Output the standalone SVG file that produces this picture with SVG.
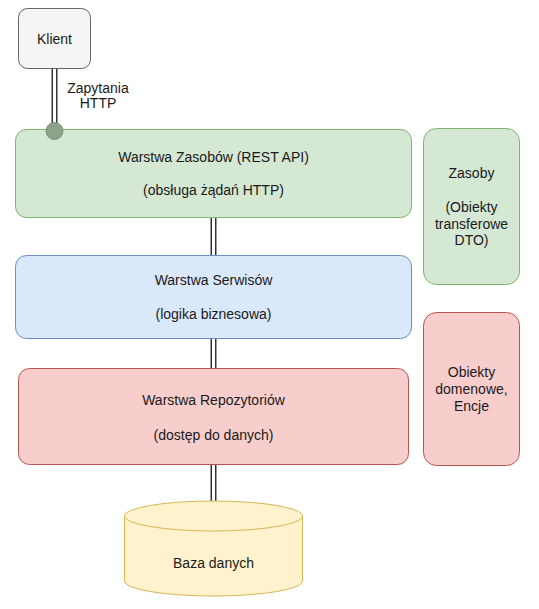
<svg xmlns="http://www.w3.org/2000/svg" width="539" height="609" viewBox="0 0 539 609">
<style>
text{font-family:"Liberation Sans",Arial,sans-serif;font-size:14px;fill:#1a1a1a;text-anchor:middle}
.green{fill:#d5e8d4;stroke:#82b366;stroke-width:1}
.blue{fill:#dae8fc;stroke:#6c8ebf;stroke-width:1}
.red{fill:#f8cecc;stroke:#b85450;stroke-width:1}
.grey{fill:#f5f5f5;stroke:#666666;stroke-width:1}
.yellow{fill:#fff2cc;stroke:#d6b656;stroke-width:1}
.lo{stroke:#333333;stroke-width:6;fill:none}
.li{stroke:#ffffff;stroke-width:3;fill:none}
</style>
<g id="connectors">
<line class="lo" x1="54.5" y1="68" x2="54.5" y2="131"/>
<line class="li" x1="54.5" y1="68" x2="54.5" y2="131"/>
<line class="lo" x1="213.5" y1="217" x2="213.5" y2="255"/>
<line class="li" x1="213.5" y1="217" x2="213.5" y2="255"/>
<line class="lo" x1="213.5" y1="338" x2="213.5" y2="368"/>
<line class="li" x1="213.5" y1="338" x2="213.5" y2="368"/>
<line class="lo" x1="213.5" y1="464" x2="213.5" y2="502"/>
<line class="li" x1="213.5" y1="464" x2="213.5" y2="502"/>
<text x="98" y="93">Zapytania</text>
<text x="98" y="108">HTTP</text>
</g>
<g id="klient">
<rect class="grey" x="18.5" y="8.5" width="72" height="60" rx="9"/>
<text x="54.5" y="44">Klient</text>
</g>
<g id="zasobow">
<rect class="green" x="15.5" y="129.5" width="396" height="88" rx="11"/>
<text x="213.5" y="162">Warstwa Zasobów (REST API)</text>
<text x="213.5" y="195">(obsługa żądań HTTP)</text>
</g>
<g id="endpoint">
<circle cx="54.5" cy="131" r="8.5" fill="#8aa38a" stroke="#7b917b"/>
</g>
<g id="serwisow">
<rect class="blue" x="15.5" y="255.5" width="396" height="83" rx="11"/>
<text x="213.5" y="285">Warstwa Serwisów</text>
<text x="213.5" y="319">(logika biznesowa)</text>
</g>
<g id="repozytoriow">
<rect class="red" x="18.5" y="368.5" width="390" height="96" rx="11"/>
<text x="213.5" y="405">Warstwa Repozytoriów</text>
<text x="213.5" y="440">(dostęp do danych)</text>
</g>
<g id="zasoby">
<rect class="green" x="423.5" y="128.5" width="96" height="156" rx="13"/>
<text x="471.5" y="178">Zasoby</text>
<text x="471.5" y="212">(Obiekty</text>
<text x="471.5" y="229">transferowe</text>
<text x="471.5" y="245">DTO)</text>
</g>
<g id="domenowe">
<rect class="red" x="423.5" y="312.5" width="96" height="153" rx="13"/>
<text x="471.5" y="377">Obiekty</text>
<text x="471.5" y="394">domenowe,</text>
<text x="471.5" y="411">Encje</text>
</g>
<g id="baza">
<path class="yellow" d="M124.5,516 A89,15 0 0 1 302.5,516 L302.5,581 A89,15 0 0 1 124.5,581 Z"/>
<path class="yellow" d="M124.5,516 A89,15 0 0 0 302.5,516" fill="none"/>
<text x="213.5" y="568">Baza danych</text>
</g>
</svg>
